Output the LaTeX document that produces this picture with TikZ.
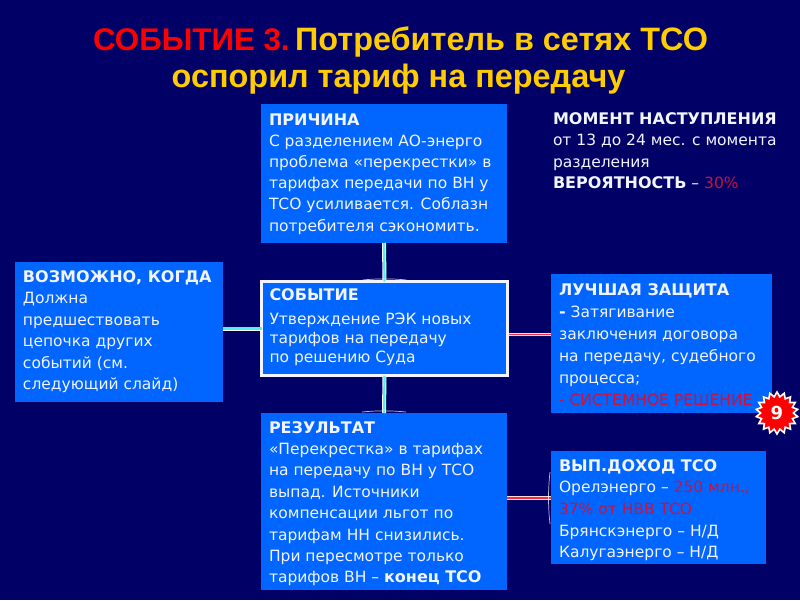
\documentclass[tikz,border=0pt]{standalone}
\usepackage{fontspec}
\setmainfont{DejaVu Sans}
\newfontfamily\titlefont{Liberation Sans}
\usetikzlibrary{calc,shapes.geometric}
\definecolor{bgnavy}{HTML}{000066}
\definecolor{panelblue}{HTML}{0066FF}
\definecolor{softwhite}{HTML}{F2F4FF}
\definecolor{alertred}{HTML}{D0103A}
\definecolor{titlegold}{HTML}{FFCC00}
\definecolor{linkcyan}{HTML}{55EEEE}
\definecolor{linkred}{HTML}{F03040}
% width, height, first baseline offset, line pitch, text
\newcommand{\paneltext}[5]{\vbox to #2pt{\hsize=#1pt\leftskip=8pt\rightskip=0pt plus 1fil\parindent=0pt\parfillskip=0pt plus 1fil%
  \baselineskip=#4pt\lineskiplimit=-100pt\prevdepth=0pt\vskip\dimexpr#3pt-#4pt\relax
  \fontsize{15.5}{#4}\selectfont\baselineskip=#4pt\color{softwhite}\leavevmode #5\par\vss}}
\newcommand{\hd}[1]{{\fontsize{16}{16}\selectfont\bfseries #1}}
\newcommand{\alert}[1]{\textcolor{alertred}{#1}}
\tikzset{
  panel/.style={fill=panelblue,inner sep=0pt,outer sep=0pt,anchor=north west},
  eventpanel/.style={panel,draw=softwhite,line width=3pt},
  freetext/.style={inner sep=0pt,outer sep=0pt,anchor=north west},
  linkblue/.style={draw=white,double=linkcyan,line width=0.9pt,double distance=2.2pt},
  linkalert/.style={draw=white!85!red,double=linkred,line width=0.9pt,double distance=1.8pt},
  lens/.style={draw=white,draw opacity=0.75,line width=0.7pt},
  titleline/.style={inner sep=0pt,anchor=base,font=\titlefont\bfseries\fontsize{32.4}{36}\selectfont},
  seal/.style={star,star points=18,star point ratio=1.28,fill=red,draw=white,line width=1.6pt,inner sep=0pt,minimum size=42pt,text=white,font=\bfseries\fontsize{18}{20}\selectfont}
}
\begin{document}
\begin{tikzpicture}[x=1pt,y=-1pt]
\fill[bgnavy] (0,0) rectangle (800,600);
\useasboundingbox (0,0) rectangle (800,600);

\node[titleline] (title1) at (400.5,50) {\textcolor{red}{\fontsize{31.3}{36}\selectfont СОБЫТИЕ 3.}\hspace{5.5pt}\textcolor{titlegold}{Потребитель в сетях ТСО}};
\node[titleline,text=titlegold] (title2) at (398.5,87) {оспорил тариф на передачу};

\node[panel] (cause) at (261,104) {\paneltext{246}{139}{21}{21.2}{\hd{ПРИЧИНА}\newline
С разделением АО-энерго\newline
проблема «перекрестки» в\newline
тарифах передачи по ВН у\newline
ТСО усиливается. Соблазн\newline
потребителя сэкономить.}};

\node[freetext] (moment) at (545,104) {\paneltext{240}{95}{20}{21.6}{\hd{МОМЕНТ НАСТУПЛЕНИЯ}\newline
от 13 до 24 мес. с момента\newline
разделения\newline
\hd{ВЕРОЯТНОСТЬ} -- \alert{30\%}}};

\node[panel] (when) at (15,262) {\paneltext{208}{140}{20}{21.5}{\hd{ВОЗМОЖНО, КОГДА}\newline
Должна\newline
предшествовать\newline
цепочка других\newline
событий (см.\newline
следующий слайд)}};

\node[eventpanel] (event) at (261.5,281.5) {\paneltext{246}{94}{18.5}{19.2}{\hd{СОБЫТИЕ}\par\vskip5pt\leavevmode
Утверждение РЭК новых\newline
тарифов на передачу\newline
по решению Суда}};

\node[panel] (defence) at (551,274) {\paneltext{221}{139}{21}{22}{\hd{ЛУЧШАЯ ЗАЩИТА}\newline
\hd{-} Затягивание\newline
заключения договора\newline
на передачу, судебного\newline
процесса;\newline
\alert{- СИСТЕМНОЕ РЕШЕНИЕ}}};

\node[panel] (result) at (261,413) {\paneltext{246}{177}{20}{21.4}{\hd{РЕЗУЛЬТАТ}\newline
«Перекрестка» в тарифах\newline
на передачу по ВН у ТСО\newline
выпад. Источники\newline
компенсации льгот по\newline
тарифам НН снизились.\newline
При пересмотре только\newline
тарифов ВН -- \hd{конец ТСО}}};

\node[panel] (income) at (551,451) {\paneltext{215}{113}{20}{21.7}{\hd{ВЫП.ДОХОД ТСО}\newline
Орелэнерго -- \alert{250 млн.,}\newline
\alert{37\% от НВВ ТСО}\newline
Брянскэнерго -- Н/Д\newline
Калугаэнерго -- Н/Д}};

\node[seal] (badge) at (777,413) {9};

% connectors
\draw[linkblue] (cause.south) -- (event.north);
\draw[linkblue] (event.south) -- (result.north);
\draw[linkblue] (when.east |- event.west) -- (event.west);
\coordinate (defstart) at ($(event.east)+(1,6)$);
\draw[linkalert] (defstart) -- (defstart -| defence.west);
\coordinate (incstart) at ($(result.east)+(0,-3.5)$);
\draw[linkalert] (incstart) -- (incstart -| income.west);

% flared ends of the connectors
\draw[lens] ($(event.north)+(-22,-1.5)$) .. controls ($(event.north)+(-8,-3)$) and ($(event.north)+(8,-3)$) .. ($(event.north)+(22,-1.5)$);
\draw[lens] ($(result.north)+(-22,-1)$) .. controls ($(result.north)+(-8,-2.5)$) and ($(result.north)+(8,-2.5)$) .. ($(result.north)+(22,-1)$);
\draw[lens] ($(incstart -| income.west)+(-1,-26)$) .. controls ($(incstart -| income.west)+(-3,-8)$) and ($(incstart -| income.west)+(-3,8)$) .. ($(incstart -| income.west)+(-1,26)$);
\end{tikzpicture}
\end{document}
